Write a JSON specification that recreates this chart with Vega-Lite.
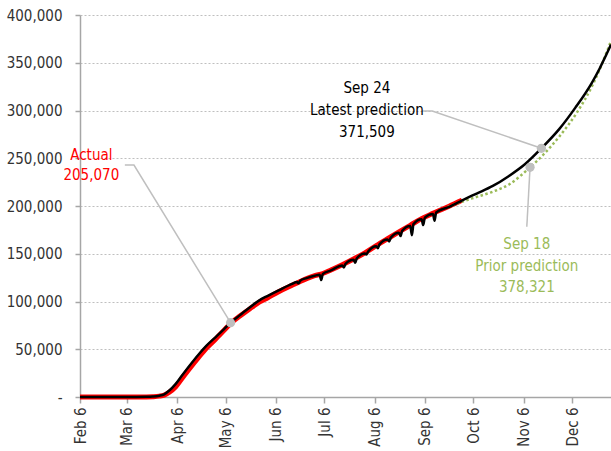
{
  "$schema": "https://vega.github.io/schema/vega-lite/v6.json",
  "width": 531,
  "height": 382,
  "autosize": {"type": "none"},
  "padding": {"left": 80, "top": 15, "right": 0, "bottom": 54},
  "background": "white",
  "config": {
    "view": {"stroke": null},
    "font": "DejaVu Sans Condensed, sans-serif",
    "axis": {
      "labelFont": "DejaVu Sans Condensed, sans-serif",
      "labelFontSize": 15,
      "labelColor": "#333333",
      "domainColor": "#A6A6A6",
      "domainWidth": 1.5,
      "tickColor": "#A6A6A6",
      "tickWidth": 1.5,
      "title": null
    }
  },
  "datasets": {
    "actual": [
      {"date": "2020-02-06", "deaths": 0},
      {"date": "2020-03-01", "deaths": 0},
      {"date": "2020-03-12", "deaths": 30},
      {"date": "2020-03-18", "deaths": 100},
      {"date": "2020-03-22", "deaths": 300},
      {"date": "2020-03-26", "deaths": 900},
      {"date": "2020-03-29", "deaths": 2000},
      {"date": "2020-04-01", "deaths": 4800},
      {"date": "2020-04-05", "deaths": 10500},
      {"date": "2020-04-09", "deaths": 19500},
      {"date": "2020-04-14", "deaths": 30500},
      {"date": "2020-04-19", "deaths": 41000},
      {"date": "2020-04-24", "deaths": 51000},
      {"date": "2020-04-30", "deaths": 61000},
      {"date": "2020-05-05", "deaths": 69800},
      {"date": "2020-05-09", "deaths": 77000},
      {"date": "2020-05-15", "deaths": 85000},
      {"date": "2020-05-21", "deaths": 92500},
      {"date": "2020-05-27", "deaths": 99500},
      {"date": "2020-06-01", "deaths": 104000},
      {"date": "2020-06-08", "deaths": 110500},
      {"date": "2020-06-16", "deaths": 117000},
      {"date": "2020-06-21", "deaths": 121000},
      {"date": "2020-06-25", "deaths": 124000},
      {"date": "2020-06-30", "deaths": 127000},
      {"date": "2020-07-05", "deaths": 129300},
      {"date": "2020-07-10", "deaths": 133000},
      {"date": "2020-07-17", "deaths": 138500},
      {"date": "2020-07-24", "deaths": 144500},
      {"date": "2020-07-31", "deaths": 151000},
      {"date": "2020-08-07", "deaths": 158500},
      {"date": "2020-08-14", "deaths": 165700},
      {"date": "2020-08-21", "deaths": 172800},
      {"date": "2020-08-28", "deaths": 179800},
      {"date": "2020-09-04", "deaths": 186800},
      {"date": "2020-09-11", "deaths": 192300},
      {"date": "2020-09-21", "deaths": 199700},
      {"date": "2020-09-29", "deaths": 206000}
    ],
    "latest": [
      {"date": "2020-02-06", "deaths": 0},
      {"date": "2020-03-01", "deaths": 0},
      {"date": "2020-03-12", "deaths": 40},
      {"date": "2020-03-18", "deaths": 150},
      {"date": "2020-03-22", "deaths": 450},
      {"date": "2020-03-26", "deaths": 1300},
      {"date": "2020-03-29", "deaths": 2800},
      {"date": "2020-04-01", "deaths": 6500},
      {"date": "2020-04-05", "deaths": 13500},
      {"date": "2020-04-09", "deaths": 22500},
      {"date": "2020-04-14", "deaths": 33500},
      {"date": "2020-04-19", "deaths": 44000},
      {"date": "2020-04-24", "deaths": 53500},
      {"date": "2020-04-30", "deaths": 63000},
      {"date": "2020-05-05", "deaths": 71000},
      {"date": "2020-05-09", "deaths": 77800},
      {"date": "2020-05-15", "deaths": 86000},
      {"date": "2020-05-21", "deaths": 94000},
      {"date": "2020-05-27", "deaths": 101500},
      {"date": "2020-06-01", "deaths": 106000},
      {"date": "2020-06-08", "deaths": 112000},
      {"date": "2020-06-16", "deaths": 118500},
      {"date": "2020-06-19", "deaths": 120500},
      {"date": "2020-06-20", "deaths": 119000},
      {"date": "2020-06-21", "deaths": 121800},
      {"date": "2020-06-25", "deaths": 124500},
      {"date": "2020-06-30", "deaths": 127000},
      {"date": "2020-07-03", "deaths": 128000},
      {"date": "2020-07-04", "deaths": 122500},
      {"date": "2020-07-05", "deaths": 128800},
      {"date": "2020-07-10", "deaths": 132500},
      {"date": "2020-07-17", "deaths": 137800},
      {"date": "2020-07-18", "deaths": 135600},
      {"date": "2020-07-19", "deaths": 139300},
      {"date": "2020-07-24", "deaths": 143600},
      {"date": "2020-07-25", "deaths": 140500},
      {"date": "2020-07-26", "deaths": 145300},
      {"date": "2020-07-31", "deaths": 150300},
      {"date": "2020-08-01", "deaths": 149300},
      {"date": "2020-08-02", "deaths": 152300},
      {"date": "2020-08-07", "deaths": 157800},
      {"date": "2020-08-08", "deaths": 155800},
      {"date": "2020-08-09", "deaths": 159800},
      {"date": "2020-08-14", "deaths": 164900},
      {"date": "2020-08-15", "deaths": 162900},
      {"date": "2020-08-16", "deaths": 166900},
      {"date": "2020-08-21", "deaths": 172000},
      {"date": "2020-08-22", "deaths": 168500},
      {"date": "2020-08-23", "deaths": 174000},
      {"date": "2020-08-28", "deaths": 179000},
      {"date": "2020-08-29", "deaths": 169500},
      {"date": "2020-08-30", "deaths": 181000},
      {"date": "2020-09-04", "deaths": 186000},
      {"date": "2020-09-05", "deaths": 180000},
      {"date": "2020-09-06", "deaths": 187800},
      {"date": "2020-09-11", "deaths": 191600},
      {"date": "2020-09-12", "deaths": 184500},
      {"date": "2020-09-13", "deaths": 193200},
      {"date": "2020-09-21", "deaths": 199000},
      {"date": "2020-09-27", "deaths": 204000},
      {"date": "2020-10-01", "deaths": 207500},
      {"date": "2020-10-08", "deaths": 213000},
      {"date": "2020-10-18", "deaths": 221000},
      {"date": "2020-10-28", "deaths": 231500},
      {"date": "2020-11-07", "deaths": 244000},
      {"date": "2020-11-17", "deaths": 260400},
      {"date": "2020-11-28", "deaths": 280500},
      {"date": "2020-12-08", "deaths": 303000},
      {"date": "2020-12-18", "deaths": 328500},
      {"date": "2020-12-23", "deaths": 344000},
      {"date": "2020-12-27", "deaths": 358100},
      {"date": "2020-12-30", "deaths": 369000}
    ],
    "prior": [
      {"date": "2020-09-20", "deaths": 198800},
      {"date": "2020-09-29", "deaths": 204500},
      {"date": "2020-10-08", "deaths": 209500},
      {"date": "2020-10-18", "deaths": 215000},
      {"date": "2020-10-28", "deaths": 222500},
      {"date": "2020-11-10", "deaths": 240500},
      {"date": "2020-11-18", "deaths": 253400},
      {"date": "2020-11-28", "deaths": 272600},
      {"date": "2020-12-09", "deaths": 298000},
      {"date": "2020-12-19", "deaths": 328000},
      {"date": "2020-12-28", "deaths": 364000},
      {"date": "2020-12-30", "deaths": 373000}
    ],
    "leaders": [
      {"id": "actual", "seq": 1, "date": "2020-03-04T17:00:00Z", "deaths": 242900},
      {"id": "actual", "seq": 2, "date": "2020-03-10T08:00:00Z", "deaths": 242900},
      {"id": "actual", "seq": 3, "date": "2020-05-09", "deaths": 77800},
      {"id": "latest", "seq": 1, "date": "2020-09-04T12:00:00Z", "deaths": 299500},
      {"id": "latest", "seq": 2, "date": "2020-09-10T14:00:00Z", "deaths": 299500},
      {"id": "latest", "seq": 3, "date": "2020-11-17", "deaths": 260400},
      {"id": "prior", "seq": 1, "date": "2020-11-10", "deaths": 240500},
      {"id": "prior", "seq": 2, "date": "2020-11-08", "deaths": 178300}
    ],
    "dots": [
      {"date": "2020-05-09", "deaths": 77800},
      {"date": "2020-11-17", "deaths": 260400},
      {"date": "2020-11-10", "deaths": 240500}
    ],
    "labels": [
      {"grp": "actual", "date": "2020-02-13", "deaths": 253400, "text": "Actual"},
      {"grp": "actual", "date": "2020-02-13", "deaths": 232500, "text": "205,070"},
      {"grp": "latest", "date": "2020-08-01T05:00:00Z", "deaths": 323600, "text": "Sep 24"},
      {"grp": "latest", "date": "2020-08-01T05:00:00Z", "deaths": 300500, "text": "Latest prediction"},
      {"grp": "latest", "date": "2020-08-01T05:00:00Z", "deaths": 277500, "text": "371,509"},
      {"grp": "prior", "date": "2020-11-08", "deaths": 160200, "text": "Sep 18"},
      {"grp": "prior", "date": "2020-11-08", "deaths": 137200, "text": "Prior prediction"},
      {"grp": "prior", "date": "2020-11-08", "deaths": 115200, "text": "378,321"}
    ]
  },
  "encoding": {
    "x": {
      "field": "date",
      "type": "temporal",
      "scale": {
        "type": "utc",
        "domain": [
          {"year": 2020, "month": 2, "date": 6, "utc": true},
          {"year": 2020, "month": 12, "date": 30, "utc": true}
        ],
        "nice": false
      },
      "axis": {
        "values": [
          {"year": 2020, "month": 2, "date": 6, "utc": true},
          {"year": 2020, "month": 3, "date": 6, "utc": true},
          {"year": 2020, "month": 4, "date": 6, "utc": true},
          {"year": 2020, "month": 5, "date": 6, "utc": true},
          {"year": 2020, "month": 6, "date": 6, "utc": true},
          {"year": 2020, "month": 7, "date": 6, "utc": true},
          {"year": 2020, "month": 8, "date": 6, "utc": true},
          {"year": 2020, "month": 9, "date": 6, "utc": true},
          {"year": 2020, "month": 10, "date": 6, "utc": true},
          {"year": 2020, "month": 11, "date": 6, "utc": true},
          {"year": 2020, "month": 12, "date": 6, "utc": true}
        ],
        "format": "%b %-d",
        "labelAngle": -90,
        "tickSize": 6,
        "labelPadding": 4,
        "grid": false,
        "labelFlush": false,
        "labelOverlap": false
      }
    },
    "y": {
      "field": "deaths",
      "type": "quantitative",
      "scale": {"domain": [0, 400000], "nice": false},
      "axis": {
        "values": [0, 50000, 100000, 150000, 200000, 250000, 300000, 350000, 400000],
        "labelExpr": "datum.value == 0 ? '-' : format(datum.value, ',')",
        "encode": {"labels": {"update": {"dx": {"signal": "datum.value === 0 ? -10 : 0"}}}},
        "tickSize": 5,
        "labelPadding": 13,
        "grid": true,
        "gridColor": "#BFBFBF",
        "gridDash": [2, 2],
        "gridWidth": 1,
        "labelFlush": false
      }
    }
  },
  "layer": [
    {
      "data": {"name": "actual"},
      "mark": {"type": "line", "color": "#FF0000", "strokeWidth": 5, "interpolate": "monotone"}
    },
    {
      "data": {"name": "prior"},
      "mark": {"type": "line", "color": "#9BBB59", "strokeWidth": 2.5, "strokeDash": [2.5, 2.5], "interpolate": "monotone"}
    },
    {
      "data": {"name": "latest"},
      "mark": {"type": "line", "color": "#000000", "strokeWidth": 2.5, "interpolate": "monotone"}
    },
    {
      "data": {"name": "leaders"},
      "mark": {"type": "line", "color": "#BFBFBF", "strokeWidth": 1.5},
      "encoding": {
        "detail": {"field": "id"},
        "order": {"field": "seq", "type": "quantitative"}
      }
    },
    {
      "data": {"name": "dots"},
      "mark": {"type": "point", "filled": true, "color": "#BFBFBF", "opacity": 1, "size": 85}
    },
    {
      "data": {"name": "labels"},
      "mark": {"type": "text", "fontSize": 15, "baseline": "middle", "align": "center", "font": "DejaVu Sans Condensed, sans-serif"},
      "encoding": {
        "text": {"field": "text"},
        "color": {
          "field": "grp",
          "type": "nominal",
          "scale": {"domain": ["actual", "latest", "prior"], "range": ["#FF0000", "#000000", "#9BBB59"]},
          "legend": null
        }
      }
    }
  ]
}
